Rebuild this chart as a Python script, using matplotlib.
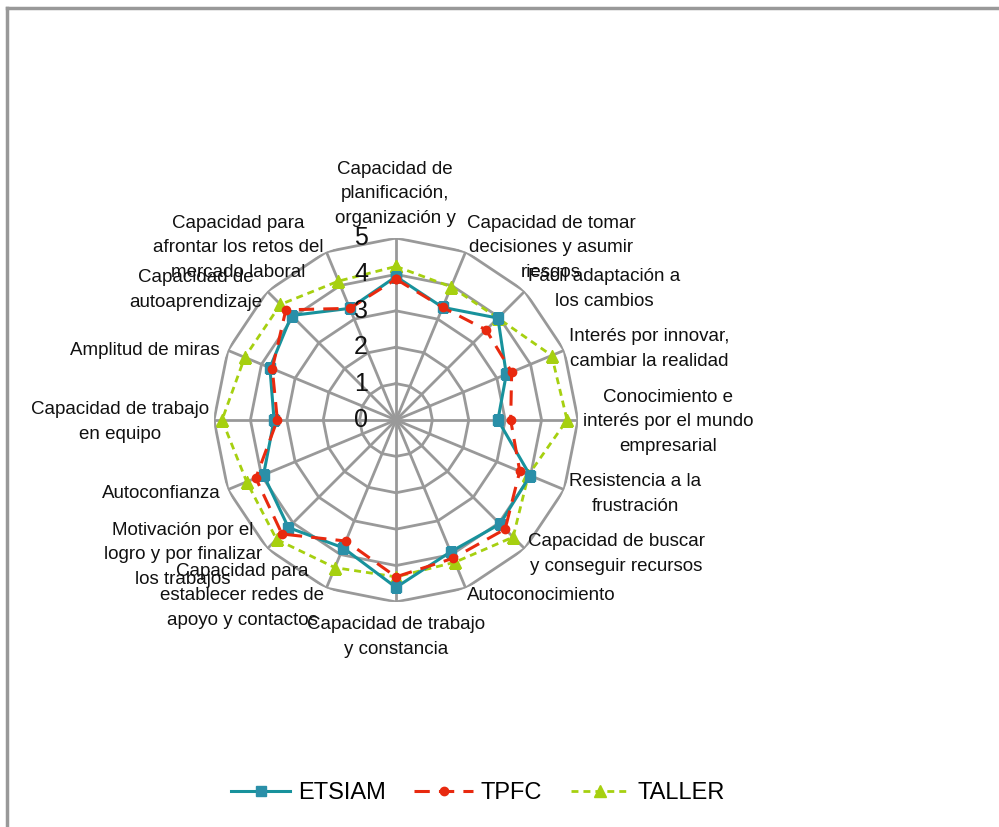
import numpy as np
import matplotlib
matplotlib.use('Agg')
import matplotlib.pyplot as plt
from matplotlib.lines import Line2D
from matplotlib.transforms import offset_copy

plt.rcParams['font.family'] = ['Liberation Sans Narrow', 'Liberation Sans', 'DejaVu Sans']

# datos
categorias = [
    'Capacidad de\nplanificación,\norganización y',
    'Capacidad de tomar\ndecisiones y asumir\nriesgos',
    'Fácil adaptación a\nlos cambios',
    'Interés por innovar,\ncambiar la realidad',
    'Conocimiento e\ninterés por el mundo\nempresarial',
    'Resistencia a la\nfrustración',
    'Capacidad de buscar\ny conseguir recursos',
    'Autoconocimiento',
    'Capacidad de trabajo\ny constancia',
    'Capacidad para\nestablecer redes de\napoyo y contactos',
    'Motivación por el\nlogro y por finalizar\nlos trabajos',
    'Autoconfianza',
    'Capacidad de trabajo\nen equipo',
    'Amplitud de miras',
    'Capacidad de\nautoaprendizaje',
    'Capacidad para\nafrontar los retos del\nmercado laboral',
]
etsiam = [3.94, 3.35, 3.96, 3.28, 2.80, 3.99, 4.04, 3.92, 4.60, 3.80, 4.18, 3.94, 3.35, 3.75, 4.06, 3.32]
tpfc = [3.87, 3.35, 3.50, 3.44, 3.15, 3.68, 4.24, 4.11, 4.31, 3.60, 4.43, 4.17, 3.26, 3.68, 4.28, 3.32]
taller = [4.22, 3.96, 3.96, 4.63, 4.70, 3.94, 4.55, 4.23, 4.31, 4.39, 4.64, 4.44, 4.78, 4.50, 4.49, 4.13]
niveles = [0, 1, 2, 3, 4, 5]

# posicion de las etiquetas (pixeles desde el centro)
etiq_off = [(-1, 226), (155, 172), (208, 131), (253, 71), (272, -2), (239, -74),
            (220, -134), (145, -176), (0, -217), (-154, -176), (-213, -135),
            (-235, -74), (-276, -2), (-251, 69), (-200, 130), (-158, 172)]

n = len(categorias)
ang = np.arange(n) * 2 * np.pi / n
ang_c = np.append(ang, ang[0])

fig = plt.figure(figsize=(9.99, 8.27), dpi=100)
ax = fig.add_axes([0.2142, 0.2721, 0.3644, 0.4401], projection='polar')
ax.set_theta_zero_location('N')
ax.set_theta_direction(-1)
ax.set_ylim(0, 5)
ax.grid(False)
ax.set_xticks([])
ax.set_yticks([])
ax.spines['polar'].set_visible(False)
ax.patch.set_alpha(0)

gris = '#999999'
for lv in niveles[1:]:
    ax.plot(ang_c, [lv] * (n + 1), color=gris, lw=2, zorder=1)
for a in ang:
    ax.plot([a, a], [0, 5], color=gris, lw=2, zorder=1)

def cerrar(v):
    return list(v) + [v[0]]

ax.plot(ang_c, cerrar(etsiam), color='#17929C', lw=2.2, marker='s', ms=6.5,
        mfc='#2A8FA8', mec='#2A8FA8', label='ETSIAM', zorder=4)
ax.plot(ang_c, cerrar(tpfc), color='#E8290F', lw=2.2, ls=(0, (5, 3)), marker='o', ms=6,
        mfc='#E8290F', mec='#E8290F', label='TPFC', zorder=5)
ax.plot(ang_c, cerrar(taller), color='#A6D010', lw=2, ls=(0, (2.5, 1.8)), marker='^', ms=8,
        mfc='#A6D010', mec='#A6D010', label='TALLER', zorder=3)

# etiquetas de categoria
for lab, (dx, dy) in zip(categorias, etiq_off):
    tr = offset_copy(ax.transData, fig=fig, x=dx, y=dy, units='dots')
    ax.text(0, 0, lab, transform=tr, ha='center', va='center', fontsize=13.5,
            linespacing=1.55, color='#111111', zorder=6)

# etiquetas radiales
for lv in niveles:
    tr = offset_copy(ax.transData, fig=fig, x=-28, y=0, units='dots')
    ax.text(0, lv, str(lv), transform=tr, ha='right', va='center', fontsize=18,
            color='#111111', zorder=6)

leg = fig.legend(loc='center', bbox_to_anchor=(478 / 999, 1 - 793 / 827), ncol=3,
                 frameon=False, fontsize=17, handlelength=2.5, handletextpad=0.33,
                 columnspacing=1.2)

# marco
fig.add_artist(Line2D([7 / 999, 1.0], [1 - 8 / 827, 1 - 8 / 827], transform=fig.transFigure,
                      color=gris, lw=2.5))
fig.add_artist(Line2D([7 / 999, 7 / 999], [0, 1 - 8 / 827], transform=fig.transFigure,
                      color=gris, lw=2.5))

fig.savefig('out.png', dpi=100)
